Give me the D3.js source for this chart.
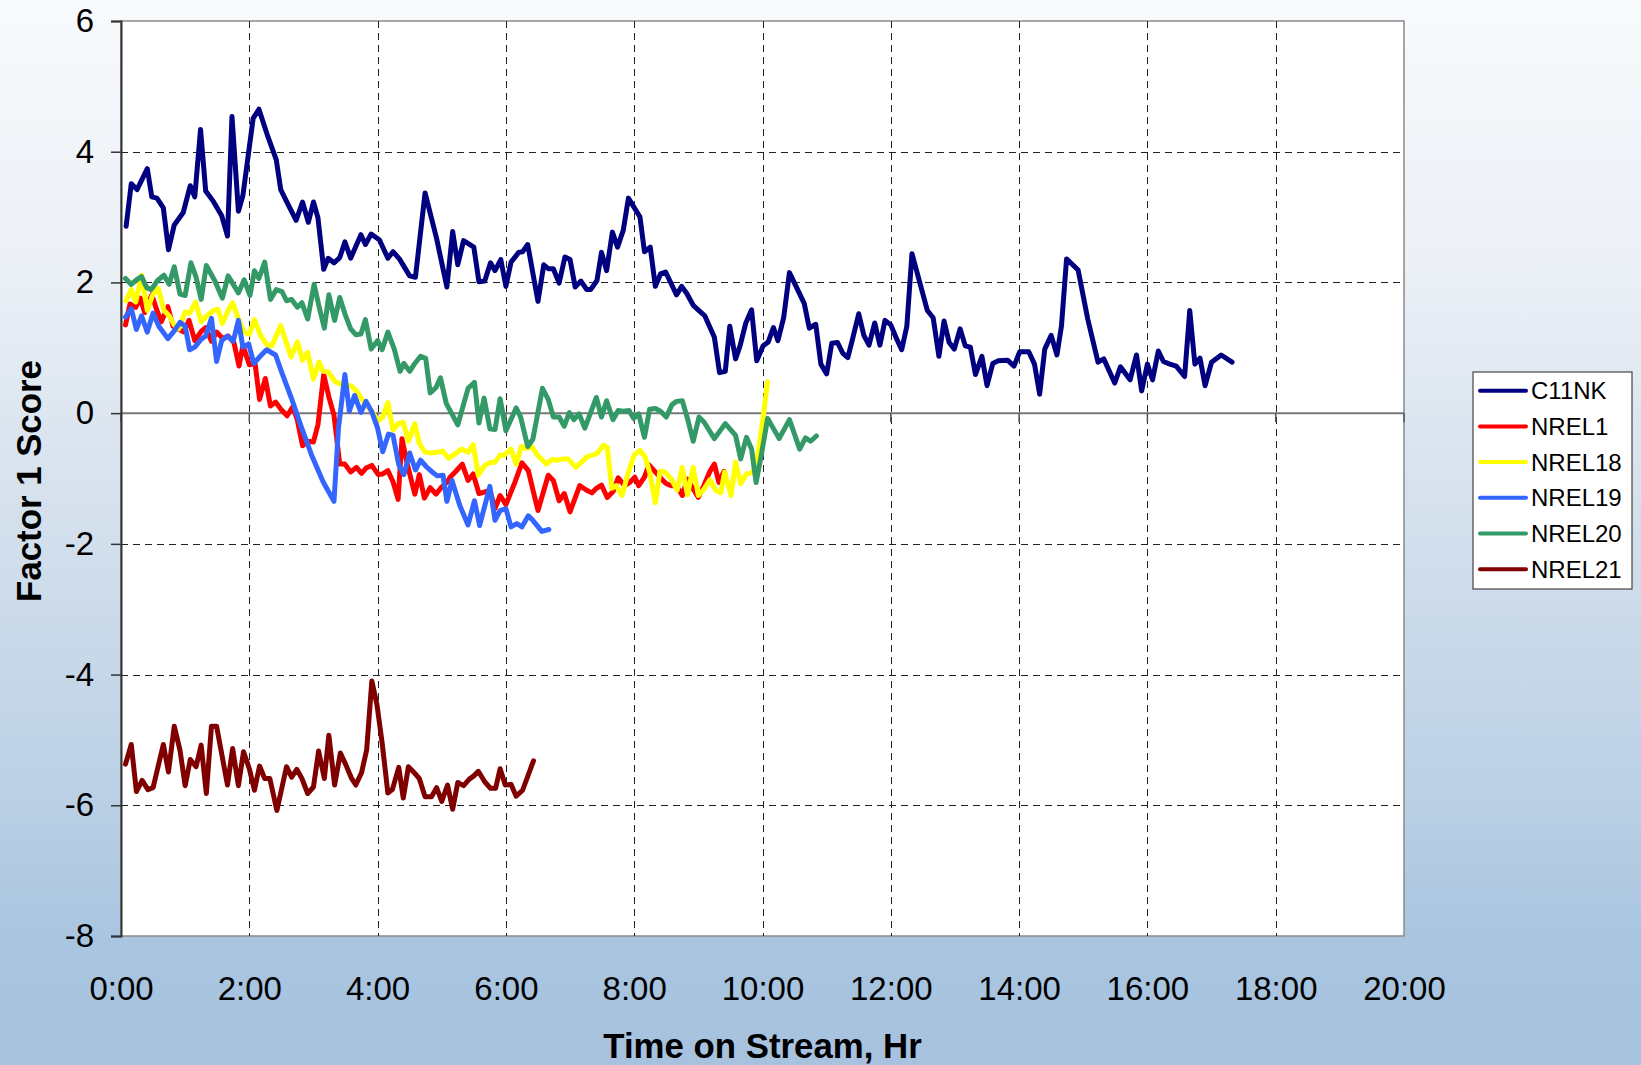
<!DOCTYPE html>
<html>
<head>
<meta charset="utf-8">
<script src="https://cdn.jsdelivr.net/npm/d3@7"></script>
<style>
  html, body { margin: 0; padding: 0; }
  body { width: 1641px; height: 1065px; overflow: hidden; }
  svg { display: block; font-family: "Liberation Sans", Arial, sans-serif; }
</style>
</head>
<body>
<svg id="chart" width="1641" height="1065"></svg>
<script>
// ---------- data (time in hours, Factor 1 score) ----------
const seriesNames = ["C11NK", "NREL1", "NREL18", "NREL19", "NREL20", "NREL21"];
const seriesColors = ["#000080", "#ff0000", "#ffff00", "#3366ff", "#339966", "#800000"];

const c11nkT = [0.08,0.16,0.25,0.41,0.48,0.56,0.66,0.74,0.83,0.97,1.08,1.15,1.24,1.32,1.44,1.57,1.66,1.73,1.83,1.90,2.06,2.15,2.29,2.42,2.49,2.58,2.73,2.83,2.92,3.00,3.07,3.16,3.23,3.32,3.41,3.49,3.58,3.74,3.81,3.90,4.03,4.16,4.24,4.34,4.50,4.59,4.74,4.92,5.08,5.17,5.25,5.34,5.50,5.58,5.67,5.76,5.83,5.92,6.00,6.08,6.20,6.26,6.34,6.50,6.59,6.66,6.74,6.83,6.92,7.00,7.08,7.17,7.26,7.32,7.42,7.49,7.57,7.66,7.74,7.83,7.91,8.09,8.16,8.25,8.33,8.41,8.49,8.66,8.74,8.82,8.92,9.01,9.10,9.25,9.33,9.42,9.49,9.58,9.65,9.74,9.83,9.91,10.01,10.09,10.17,10.24,10.33,10.42,10.65,10.73,10.83,10.91,11.00,11.08,11.17,11.25,11.33,11.41,11.50,11.58,11.66,11.75,11.83,11.91,12.00,12.08,12.17,12.25,12.33,12.57,12.66,12.75,12.83,12.91,12.99,13.08,13.16,13.24,13.32,13.42,13.50,13.59,13.67,13.82,13.92,14.01,14.15,14.24,14.32,14.40,14.50,14.59,14.66,14.74,14.92,15.07,15.23,15.32,15.49,15.58,15.73,15.83,15.91,16.00,16.08,16.17,16.25,16.35,16.45,16.58,16.66,16.74,16.82,16.90,17.00,17.15,17.32];
const c11nkV = [2.86,3.51,3.42,3.74,3.31,3.29,3.14,2.50,2.88,3.07,3.48,3.31,4.34,3.40,3.24,3.02,2.71,4.54,3.09,3.33,4.51,4.65,4.23,3.88,3.42,3.24,2.95,3.23,2.92,3.23,2.99,2.20,2.37,2.30,2.38,2.62,2.37,2.73,2.58,2.74,2.65,2.37,2.47,2.36,2.10,2.08,3.37,2.67,1.93,2.78,2.27,2.64,2.54,2.01,2.02,2.30,2.18,2.35,1.94,2.31,2.46,2.47,2.58,1.71,2.27,2.21,2.21,1.99,2.39,2.35,1.93,2.02,1.89,1.89,2.03,2.46,2.18,2.77,2.54,2.80,3.29,3.00,2.47,2.54,1.94,2.13,2.16,1.81,1.94,1.83,1.65,1.57,1.49,1.16,0.62,0.64,1.33,0.83,1.03,1.38,1.58,0.80,1.03,1.09,1.31,1.11,1.46,2.15,1.68,1.30,1.36,0.75,0.60,1.07,1.08,0.92,0.85,1.16,1.52,1.19,1.04,1.38,1.04,1.42,1.35,1.16,0.97,1.33,2.44,1.57,1.46,0.87,1.41,1.08,0.98,1.29,1.03,1.01,0.59,0.87,0.42,0.76,0.80,0.81,0.72,0.94,0.94,0.75,0.29,0.98,1.19,0.89,1.33,2.36,2.19,1.44,0.78,0.83,0.46,0.71,0.51,0.89,0.34,0.75,0.51,0.95,0.79,0.75,0.72,0.56,1.57,0.75,0.84,0.42,0.78,0.89,0.78];

const nrel1T = [0.07,0.14,0.23,0.30,0.37,0.48,0.56,0.63,0.73,0.81,0.89,0.98,1.06,1.15,1.25,1.32,1.41,1.49,1.59,1.67,1.76,1.84,1.90,2.00,2.09,2.16,2.25,2.33,2.41,2.50,2.59,2.68,2.75,2.83,2.91,3.00,3.07,3.16,3.24,3.32,3.41,3.49,3.58,3.67,3.75,3.82,3.91,4.01,4.08,4.16,4.24,4.32,4.38,4.46,4.58,4.65,4.73,4.82,4.91,4.99,5.09,5.13,5.21,5.32,5.41,5.49,5.58,5.66,5.75,5.83,5.91,6.00,6.14,6.25,6.35,6.43,6.50,6.66,6.74,6.83,6.91,7.00,7.15,7.26,7.34,7.41,7.49,7.58,7.67,7.75,7.85,7.93,8.01,8.07,8.16,8.23,8.31,8.43,8.50,8.58,8.66,8.75,8.83,8.92,9.00,9.09,9.18,9.25,9.32,9.40];
const nrel1V = [1.35,1.67,1.62,1.76,1.54,1.81,1.57,1.40,1.63,1.33,1.29,1.24,1.42,1.11,1.25,1.31,1.10,1.24,1.14,1.18,1.08,0.72,1.04,0.74,0.76,0.21,0.53,0.11,0.17,0.05,-0.04,0.10,-0.11,-0.50,-0.43,-0.44,-0.18,0.59,0.25,-0.03,-0.78,-0.78,-0.90,-0.83,-0.92,-0.84,-0.80,-0.94,-0.93,-0.88,-1.05,-1.32,-0.39,-0.77,-1.24,-0.94,-1.30,-1.14,-1.24,-1.14,-1.05,-0.98,-0.90,-0.78,-1.03,-0.93,-1.23,-1.21,-1.18,-1.46,-1.26,-1.40,-1.06,-0.76,-0.88,-1.21,-1.49,-0.95,-1.03,-1.34,-1.23,-1.51,-1.11,-1.18,-1.22,-1.15,-1.10,-1.29,-1.20,-0.99,-1.11,-1.06,-0.98,-1.11,-0.98,-0.79,-0.88,-1.01,-1.08,-1.11,-1.11,-1.26,-1.01,-1.16,-1.29,-1.10,-0.89,-0.78,-1.06,-0.89];

const nrel18T = [0.08,0.16,0.23,0.32,0.41,0.49,0.58,0.67,0.75,0.83,0.90,1.00,1.07,1.16,1.25,1.33,1.44,1.51,1.58,1.67,1.74,1.83,1.92,2.00,2.08,2.18,2.28,2.35,2.49,2.65,2.75,2.83,2.91,3.00,3.09,3.15,3.23,3.34,3.45,3.58,3.67,3.75,3.84,3.92,4.01,4.08,4.16,4.24,4.32,4.40,4.48,4.58,4.65,4.73,4.82,4.93,5.01,5.11,5.21,5.31,5.41,5.49,5.57,5.66,5.74,5.83,5.91,5.98,6.08,6.16,6.24,6.32,6.41,6.49,6.63,6.72,6.81,6.89,6.97,7.09,7.18,7.26,7.36,7.43,7.52,7.58,7.65,7.72,7.81,7.91,8.00,8.09,8.17,8.24,8.33,8.40,8.48,8.58,8.67,8.75,8.83,8.92,9.00,9.09,9.18,9.27,9.35,9.41,9.51,9.58,9.66,9.75,9.84,9.91,9.98,10.08];
const nrel18V = [1.72,1.89,1.70,2.11,1.57,1.80,1.91,1.57,1.49,1.35,1.29,1.55,1.53,1.70,1.40,1.48,1.57,1.59,1.37,1.57,1.69,1.44,1.24,1.21,1.43,1.18,1.04,1.03,1.34,0.86,1.09,0.81,0.93,0.52,0.78,0.64,0.63,0.48,0.43,0.42,0.34,0.22,0.10,0.02,-0.12,-0.06,0.16,-0.26,-0.16,-0.14,-0.43,-0.16,-0.46,-0.59,-0.61,-0.60,-0.58,-0.69,-0.62,-0.55,-0.60,-0.48,-0.95,-0.81,-0.76,-0.75,-0.64,-0.64,-0.55,-0.78,-0.51,-0.54,-0.52,-0.64,-0.78,-0.71,-0.72,-0.70,-0.70,-0.83,-0.75,-0.67,-0.64,-0.61,-0.49,-0.52,-1.15,-1.11,-1.26,-0.90,-0.64,-0.57,-0.67,-0.90,-1.37,-0.89,-0.90,-1.01,-1.18,-0.83,-1.25,-0.83,-1.26,-1.16,-1.02,-1.18,-1.22,-0.90,-1.26,-0.75,-1.08,-0.93,-0.91,-0.75,-0.29,0.48];

const nrel19T = [0.07,0.16,0.24,0.32,0.41,0.50,0.59,0.73,0.83,0.92,1.00,1.07,1.15,1.25,1.32,1.41,1.49,1.57,1.66,1.75,1.83,1.90,1.99,2.07,2.17,2.27,2.41,2.50,2.66,2.81,2.97,3.15,3.32,3.39,3.49,3.56,3.64,3.74,3.82,3.91,4.00,4.08,4.17,4.24,4.33,4.41,4.50,4.59,4.67,4.76,4.85,4.93,5.02,5.08,5.16,5.28,5.41,5.51,5.59,5.75,5.83,5.91,6.00,6.08,6.17,6.25,6.35,6.42,6.56,6.67];
const nrel19V = [1.47,1.60,1.28,1.49,1.24,1.53,1.33,1.14,1.26,1.39,1.33,0.97,1.01,1.13,1.18,1.45,0.79,1.11,1.18,1.10,1.42,1.01,1.06,0.76,0.87,0.97,0.89,0.64,0.22,-0.21,-0.64,-1.05,-1.35,-0.23,0.59,0.03,0.27,0.01,0.18,0.02,-0.23,-0.59,-0.32,-0.34,-0.79,-0.94,-0.61,-0.87,-0.72,-0.82,-0.90,-0.96,-0.95,-1.35,-1.03,-1.41,-1.71,-1.34,-1.72,-1.12,-1.64,-1.49,-1.46,-1.74,-1.69,-1.74,-1.57,-1.64,-1.81,-1.78];

const nrel20T = [0.07,0.16,0.24,0.32,0.40,0.47,0.57,0.67,0.75,0.83,0.92,1.00,1.09,1.17,1.25,1.33,1.46,1.58,1.67,1.83,1.92,2.01,2.08,2.15,2.24,2.33,2.42,2.51,2.58,2.66,2.75,2.82,2.91,3.01,3.09,3.17,3.24,3.33,3.41,3.49,3.58,3.66,3.74,3.81,3.90,4.00,4.07,4.16,4.26,4.35,4.41,4.50,4.58,4.67,4.75,4.82,4.91,4.98,5.07,5.25,5.41,5.51,5.58,5.66,5.75,5.83,5.91,6.00,6.16,6.23,6.34,6.42,6.57,6.66,6.74,6.83,6.91,6.99,7.06,7.14,7.23,7.41,7.49,7.57,7.67,7.75,7.83,7.92,7.99,8.07,8.16,8.24,8.33,8.41,8.50,8.59,8.66,8.75,8.83,8.92,9.01,9.09,9.25,9.42,9.58,9.66,9.75,9.83,9.90,9.98,10.08,10.26,10.42,10.58,10.67,10.75,10.84];
const nrel20V = [2.06,1.97,2.04,2.09,1.92,1.89,2.03,2.11,1.97,2.24,1.82,1.80,2.30,2.08,1.74,2.26,2.03,1.76,2.10,1.84,2.04,1.80,2.18,2.06,2.31,1.74,1.89,1.86,1.72,1.74,1.62,1.69,1.44,1.97,1.62,1.30,1.81,1.42,1.77,1.52,1.29,1.20,1.21,1.43,0.98,1.11,0.97,1.24,0.98,0.64,0.76,0.64,0.76,0.87,0.84,0.31,0.39,0.54,0.15,-0.18,0.38,0.47,-0.15,0.23,-0.24,-0.25,0.22,-0.27,0.08,-0.06,-0.51,-0.40,0.38,0.21,-0.06,-0.06,-0.20,0.01,-0.10,-0.01,-0.23,0.24,-0.06,0.19,-0.10,0.04,0.03,0.04,-0.08,-0.01,-0.37,0.06,0.07,0.03,-0.06,0.13,0.18,0.19,-0.08,-0.43,-0.06,-0.14,-0.39,-0.16,-0.34,-0.70,-0.37,-0.55,-1.06,-0.65,-0.08,-0.39,-0.10,-0.55,-0.38,-0.43,-0.35];

const nrel21T = [0.07,0.16,0.24,0.33,0.42,0.50,0.66,0.74,0.83,0.92,1.00,1.08,1.17,1.25,1.33,1.41,1.49,1.66,1.74,1.83,1.91,2.00,2.08,2.16,2.24,2.32,2.43,2.58,2.66,2.74,2.82,2.91,3.00,3.08,3.17,3.24,3.33,3.42,3.50,3.59,3.66,3.75,3.83,3.91,3.99,4.07,4.16,4.23,4.33,4.40,4.48,4.56,4.65,4.74,4.84,4.92,5.00,5.09,5.17,5.25,5.34,5.43,5.50,5.57,5.67,5.76,5.84,5.91,5.99,6.08,6.16,6.26,6.43];
const nrel21V = [-5.37,-5.07,-5.79,-5.62,-5.76,-5.73,-5.07,-5.49,-4.79,-5.16,-5.70,-5.30,-5.41,-5.08,-5.82,-4.79,-4.79,-5.69,-5.13,-5.70,-5.18,-5.44,-5.77,-5.40,-5.59,-5.59,-6.08,-5.41,-5.57,-5.45,-5.59,-5.82,-5.72,-5.17,-5.59,-4.93,-5.69,-5.20,-5.37,-5.58,-5.69,-5.50,-5.15,-4.10,-4.46,-5.04,-5.81,-5.76,-5.42,-5.89,-5.41,-5.49,-5.59,-5.87,-5.87,-5.73,-5.94,-5.69,-6.06,-5.65,-5.70,-5.60,-5.55,-5.48,-5.64,-5.74,-5.74,-5.44,-5.69,-5.68,-5.86,-5.77,-5.32];

const xTicks = [0, 2, 4, 6, 8, 10, 12, 14, 16, 18, 20];
const yTicks = [-8, -6, -4, -2, 0, 2, 4, 6];
const xTitle = "Time on Stream, Hr";
const yTitle = "Factor 1 Score";

// ---------- build ----------
const seriesT = [c11nkT, nrel1T, nrel18T, nrel19T, nrel20T, nrel21T];
const seriesV = [c11nkV, nrel1V, nrel18V, nrel19V, nrel20V, nrel21V];
const series = seriesNames.map((name, i) => ({
  name, color: seriesColors[i],
  points: seriesT[i].map((t, j) => ({ t, v: seriesV[i][j] }))
}));

const svg = d3.select("#chart");
const W = 1641, H = 1065;
const plot = { left: 121, right: 1404, top: 21, bottom: 936 };
const FONT = '"Liberation Sans", Arial, sans-serif';

const defs = svg.append("defs");
const grad = defs.append("linearGradient").attr("id", "bg").attr("x1", 0).attr("y1", 0).attr("x2", 0).attr("y2", 1);
[[0, "#f8fafc"], [0.25, "#ebf0f6"], [0.5, "#d3dfec"], [0.75, "#bbd0e5"], [0.88, "#a9c5e0"], [1, "#a6c2de"]]
  .forEach(([o, c]) => grad.append("stop").attr("offset", o).attr("stop-color", c));

svg.append("rect").attr("width", W).attr("height", H).attr("fill", "url(#bg)");

const x = d3.scaleLinear().domain([0, 20]).range([plot.left, plot.right]);
const y = d3.scaleLinear().domain([-8, 6]).range([plot.bottom, plot.top]);

// plot area
svg.append("rect")
  .attr("x", plot.left).attr("y", plot.top)
  .attr("width", plot.right - plot.left).attr("height", plot.bottom - plot.top)
  .attr("fill", "#ffffff").attr("stroke", "#8a8a8a").attr("stroke-width", 1.5);

// gridlines
const grid = svg.append("g").attr("stroke", "#222").attr("stroke-width", 1).attr("stroke-dasharray", "7,5");
grid.selectAll("line.h").data(yTicks.filter(d => d !== 0 && d !== -8 && d !== 6)).enter().append("line")
  .attr("x1", plot.left).attr("x2", plot.right).attr("y1", d => Math.round(y(d)) + 0.5).attr("y2", d => Math.round(y(d)) + 0.5);
grid.selectAll("line.v").data(xTicks.filter(d => d !== 0 && d !== 20)).enter().append("line")
  .attr("y1", plot.top).attr("y2", plot.bottom).attr("x1", d => Math.round(x(d)) + 0.5).attr("x2", d => Math.round(x(d)) + 0.5);

// zero line (category axis crossing) with ticks
svg.append("line").attr("x1", plot.left).attr("x2", plot.right)
  .attr("y1", y(0)).attr("y2", y(0)).attr("stroke", "#777").attr("stroke-width", 2);
svg.append("g").selectAll("line").data(xTicks).enter().append("line")
  .attr("x1", d => x(d)).attr("x2", d => x(d))
  .attr("y1", y(0)).attr("y2", y(0) + 9)
  .attr("stroke", "#555").attr("stroke-width", 1.5);

// y axis
const yAxis = d3.axisLeft(y).tickValues(yTicks).tickSize(10).tickPadding(17).tickFormat(d => String(d));
const yg = svg.append("g").attr("transform", `translate(${plot.left},0)`).call(yAxis);
yg.select(".domain").attr("stroke", "#333").attr("stroke-width", 2);
yg.selectAll(".tick line").attr("stroke", "#333").attr("stroke-width", 1.5);
yg.selectAll(".tick text").attr("font-size", 33).attr("fill", "#000").attr("font-family", FONT);

// x axis labels (at bottom)
const xAxis = d3.axisBottom(x).tickValues(xTicks).tickSize(0).tickPadding(41).tickFormat(d => d + ":00");
const xg = svg.append("g").attr("transform", `translate(0,${plot.bottom})`).call(xAxis);
xg.select(".domain").remove();
xg.selectAll(".tick text").attr("font-size", 33).attr("fill", "#000").attr("font-family", FONT);

// series lines
const line = d3.line().x(d => x(d.t)).y(d => y(d.v));
svg.append("g").selectAll("path").data(series).enter().append("path")
  .attr("d", d => line(d.points))
  .attr("fill", "none").attr("stroke", d => d.color)
  .attr("stroke-width", 5).attr("stroke-linejoin", "round").attr("stroke-linecap", "round");

// axis titles
svg.append("text").attr("x", (plot.left + plot.right) / 2).attr("y", 1058)
  .attr("text-anchor", "middle").attr("font-size", 34.8).attr("font-weight", "bold").text(xTitle);
svg.append("text").attr("transform", "translate(41,481) rotate(-90)")
  .attr("text-anchor", "middle").attr("font-size", 34.8).attr("font-weight", "bold").text(yTitle);

// legend
const lg = svg.append("g");
lg.append("rect").attr("x", 1473).attr("y", 372).attr("width", 159).attr("height", 217)
  .attr("fill", "#fff").attr("stroke", "#444").attr("stroke-width", 1.2);
const rows = lg.selectAll("g.row").data(series).enter().append("g")
  .attr("transform", (d, i) => `translate(0,${390.7 + i * 35.7})`);
rows.append("line").attr("x1", 1480).attr("x2", 1526).attr("y1", 0).attr("y2", 0)
  .attr("stroke", d => d.color).attr("stroke-width", 4).attr("stroke-linecap", "round");
rows.append("text").attr("x", 1531).attr("y", 0).attr("dy", "0.36em")
  .attr("font-size", 24).attr("fill", "#000").text(d => d.name);
</script>
</body>
</html>
